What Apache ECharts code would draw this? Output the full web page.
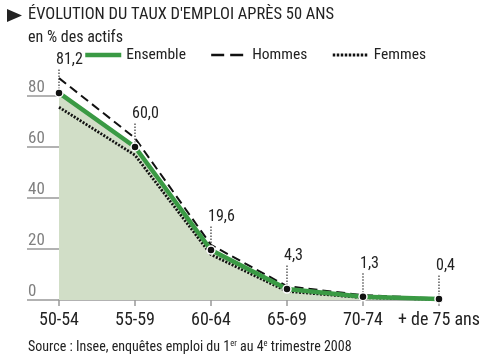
<!DOCTYPE html>
<html><head><meta charset="utf-8">
<script src="https://cdn.jsdelivr.net/npm/echarts@6/dist/echarts.min.js"></script>
<style>html,body{margin:0;padding:0;background:#fff}#c{width:483px;height:362px}</style>
</head><body><div id="c"></div>
<script>
const categories = ['50-54', '55-59', '60-64', '65-69', '70-74', '+ de 75 ans'];
const ensemble = [81.2, 60.0, 19.6, 4.3, 1.3, 0.4];
const hommes = [87.0, 63.5, 21.6, 5.4, 1.9, 0.6];
const femmes = [75.6, 56.8, 17.8, 3.4, 0.9, 0.3];
const yTicks = [0, 20, 40, 60, 80];

const FONT = '"Roboto Condensed", sans-serif';
const GREEN = '#3a9a44';
const chart = echarts.init(document.getElementById('c'), null, {renderer: 'canvas'});

chart.setOption({
  animation: false,
  backgroundColor: '#fff',
  title: [
    {text: 'ÉVOLUTION DU TAUX D\'EMPLOI APRÈS 50 ANS', left: 28, top: 6, padding: 0,
     textStyle: {fontFamily: FONT, fontSize: 16.5, fontWeight: 'normal', color: '#222'}},
    {text: 'en % des actifs', left: 28, top: 30, padding: 0,
     textStyle: {fontFamily: FONT, fontSize: 16, fontWeight: 'normal', color: '#222'}},
    {text: '{a|Source : Insee, enquêtes emploi du 1}{s|er}{a| au 4}{s|e}{a| trimestre 2008}', left: 28, top: 339, padding: 0,
     textStyle: {rich: {
       a: {fontFamily: FONT, fontSize: 14, fontWeight: 'normal', color: '#222', lineHeight: 16},
       s: {fontFamily: FONT, fontSize: 8.5, fontWeight: 'normal', color: '#222', verticalAlign: 'top', lineHeight: 16}
     }}}
  ],
  graphic: [
    {type: 'polygon', shape: {points: [[7, 9], [22, 15.5], [7, 22]]}, style: {fill: '#222'}}
  ],
  legend: {
    left: 83, top: 47, padding: 0, itemWidth: 36, itemHeight: 12, itemGap: 24,
    itemStyle: {opacity: 0},
    textStyle: {fontFamily: FONT, fontSize: 15.5, color: '#222'},
    data: [
      {name: 'Ensemble', lineStyle: {width: 4.5, color: GREEN}},
      {name: 'Hommes', lineStyle: {width: 2.5, color: '#111', type: [13, 6]}},
      {name: 'Femmes', lineStyle: {width: 3, color: '#111', type: [2.5, 1.5]}}
    ]
  },
  grid: {left: 59, right: 42, top: 96, bottom: 62},
  xAxis: {
    type: 'category', data: categories, boundaryGap: false,
    axisLine: {lineStyle: {color: '#999', width: 1.5}},
    axisTick: {show: true, length: 6, lineStyle: {color: '#999', width: 1.5}},
    axisLabel: {margin: 11, fontFamily: FONT, fontSize: 18, color: '#222', interval: 0},
    splitLine: {show: false}
  },
  yAxis: {
    type: 'value', min: 0, max: 80, interval: 20,
    axisLine: {show: false},
    axisTick: {show: true, length: 32, lineStyle: {color: '#999', width: 1.5}},
    axisLabel: {margin: 31, align: 'left', verticalAlign: 'bottom', fontFamily: FONT, fontSize: 17, color: '#808080'},
    splitLine: {show: false}
  },
  series: [
    {type: 'line', data: ensemble, symbol: 'none', clip: false, z: 1, silent: true,
     lineStyle: {width: 0}, areaStyle: {color: '#d1dec7', opacity: 1},
     markLine: {silent: true, symbol: ['none', 'none'], label: {show: false},
       lineStyle: {color: '#999', width: 1.5, type: 'solid'},
       data: [[{coord: [categories[0], 0]}, {coord: [categories[0], ensemble[0]]}]]}},
    {name: 'Femmes', type: 'line', data: femmes, symbol: 'none', clip: false, z: 3,
     lineStyle: {color: '#111', width: 2.8, type: [2, 1.5]}, itemStyle: {color: '#111'}},
    {name: 'Hommes', type: 'line', data: hommes, symbol: 'none', clip: false, z: 3,
     lineStyle: {color: '#111', width: 2, type: [9, 5]}, itemStyle: {color: '#111'}},
    {name: 'Ensemble', type: 'line', data: ensemble, symbol: 'none', clip: false, z: 4,
     lineStyle: {color: GREEN, width: 4.5}, itemStyle: {color: GREEN}},
    {type: 'custom', z: 10, clip: false, silent: true,
     data: ensemble.map((v, i) => [i, v]),
     renderItem: function (params, api) {
       const p = api.coord([api.value(0), api.value(1)]);
       const txt = api.value(1).toFixed(1).replace('.', ',');
       return {type: 'group', children: [
         {type: 'line', shape: {x1: p[0], y1: p[1] - 4, x2: p[0], y2: p[1] - 25},
          style: {stroke: '#333', lineWidth: 1.2, lineDash: [1.5, 1.5]}},
         {type: 'circle', shape: {cx: p[0], cy: p[1], r: 4},
          style: {fill: '#111', stroke: '#fff', lineWidth: 1.5}},
         {type: 'text', x: p[0] - 3, y: p[1] - 33,
          style: {text: txt, fill: '#222', fontFamily: FONT, fontSize: 16, align: 'left', verticalAlign: 'middle'}}
       ]};
     }}
  ]
});
</script></body></html>
